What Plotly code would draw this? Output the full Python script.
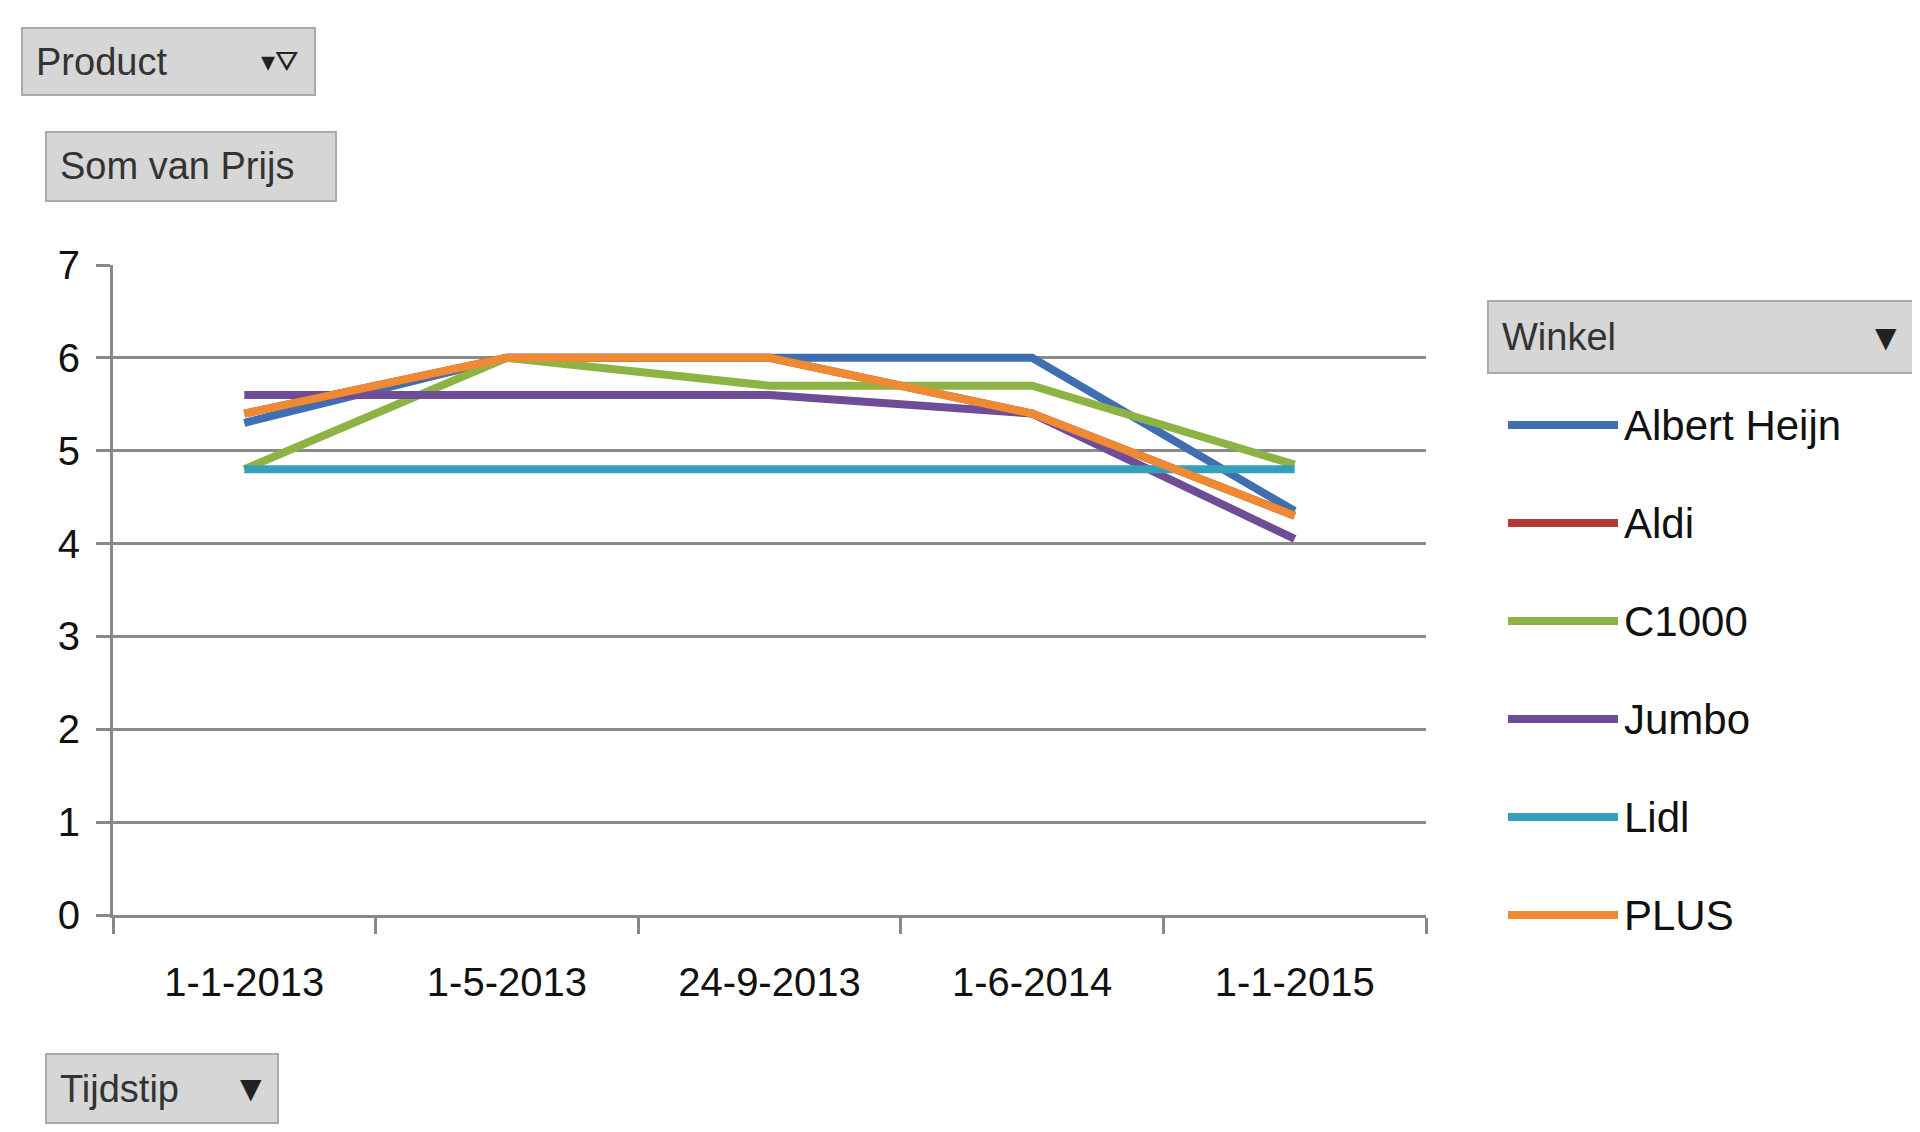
import plotly.graph_objects as go

dates = ["1-1-2013", "1-5-2013", "24-9-2013", "1-6-2014", "1-1-2015"]
names = ["Albert Heijn", "Aldi", "C1000", "Jumbo", "Lidl", "PLUS"]
colors = ["#3f6fb0", "#b33a37", "#8db344", "#6f4c96", "#35a0bb", "#ee8a33"]
albert = [5.3, 6.0, 6.0, 6.0, 4.35]
aldi = [5.4, 6.0, 6.0, 5.4, 4.3]
c1000 = [4.8, 6.0, 5.7, 5.7, 4.85]
jumbo = [5.6, 5.6, 5.6, 5.4, 4.05]
lidl = [4.8, 4.8, 4.8, 4.8, 4.8]
plus = [5.4, 6.0, 6.0, 5.4, 4.3]
series = [albert, aldi, c1000, jumbo, lidl, plus]

W, H = 1920, 1132
L, R, T, B = 105, 1418, 257, 907
def xp(px): return (px - L) / (R - L)
def yp(py): return (B - py) / (B - T)

fig = go.Figure()
for n, c, v in zip(names, colors, series):
    fig.add_trace(go.Scatter(x=dates, y=v, mode="lines", name=n,
                             line=dict(color=c, width=8), showlegend=False))

font = "Liberation Sans, Arial, sans-serif"
shapes, anns = [], []
def button(x0, y0, x1, y1, text, arrow=None):
    shapes.append(dict(type="rect", xref="paper", yref="paper",
                       x0=xp(x0), x1=xp(x1), y0=yp(y0), y1=yp(y1),
                       fillcolor="#d6d6d6", line=dict(color="#aaaaaa", width=2)))
    anns.append(dict(xref="paper", yref="paper", x=xp(x0 + 12), y=yp((y0 + y1) / 2),
                     text=text, showarrow=False, xanchor="left", yanchor="middle",
                     font=dict(family=font, size=38, color="#333333")))
    if arrow:
        anns.append(dict(xref="paper", yref="paper", x=xp(x1 - 14), y=yp((y0 + y1) / 2),
                         text=arrow, showarrow=False, xanchor="right", yanchor="middle",
                         font=dict(family="DejaVu Sans", size=28, color="#222222")))

button(14, 20, 307, 87, "Product", "▾⛛")
button(38, 124, 328, 193, "Som van Prijs")
button(1480, 293, 1905, 365, "Winkel", "▼")
button(38, 1046, 270, 1115, "Tijdstip", "▼")

for i, (n, c) in enumerate(zip(names, colors)):
    py = 417 + i * 98
    shapes.append(dict(type="line", xref="paper", yref="paper",
                       x0=xp(1500), x1=xp(1610), y0=yp(py), y1=yp(py),
                       line=dict(color=c, width=8)))
    anns.append(dict(xref="paper", yref="paper", x=xp(1614), y=yp(py), text=n,
                     showarrow=False, xanchor="left", yanchor="middle",
                     font=dict(family=font, size=42, color="#111111")))

fig.update_layout(
    width=W, height=H, margin=dict(l=L, r=W - R, t=T, b=H - B),
    paper_bgcolor="white", plot_bgcolor="white", shapes=shapes, annotations=anns,
    xaxis=dict(type="category", range=[-0.5, 4.5], showgrid=False, showline=True,
               linecolor="#888888", linewidth=3, ticks="outside", tickson="boundaries",
               ticklen=16, tickwidth=3, tickcolor="#888888", ticklabelstandoff=30,
               tickfont=dict(family=font, size=40, color="#111111")),
    yaxis=dict(range=[0, 7], dtick=1, showgrid=True, gridcolor="#8a8a8a", gridwidth=3,
               showline=True, linecolor="#888888", linewidth=3, zeroline=False,
               ticks="outside", ticklen=14, tickwidth=3, tickcolor="#888888",
               ticklabelstandoff=8,
               tickfont=dict(family=font, size=40, color="#111111")),
)
fig.write_html("out.html")
